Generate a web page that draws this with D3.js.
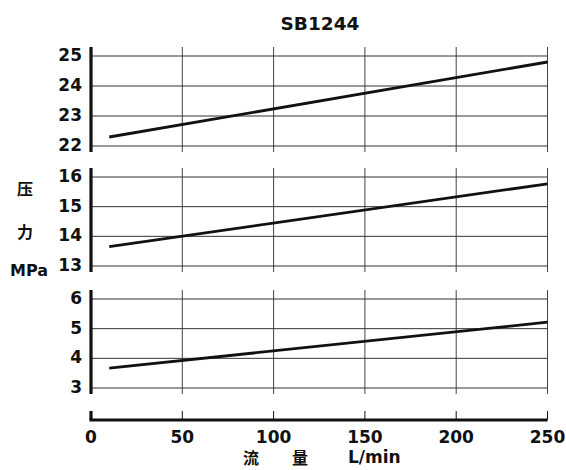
<!DOCTYPE html>
<html>
<head>
<meta charset="utf-8">
<script src="https://cdn.jsdelivr.net/npm/d3@7"></script>
<style>
  body { margin: 0; background: #fff; }
  text { font-family: "DejaVu Sans", "Liberation Sans", sans-serif; font-weight: bold; fill: #111; }
  .cjk { font-family: "Noto Sans CJK SC", sans-serif; font-weight: bold; }
</style>
</head>
<body>
<div id="chart"></div>
<script>
// data
const flow = [10, 250];
const pressTop = [22.3, 24.8];
const pressMid = [13.65, 15.77];
const pressLow = [3.67, 5.22];
const xTicks = [0, 50, 100, 150, 200, 250];
const ticksTop = [22, 23, 24, 25];
const ticksMid = [13, 14, 15, 16];
const ticksLow = [3, 4, 5, 6];

const width = 566, height = 470;

const svg = d3.select("#chart")
    .append("svg")
    .attr("width", width)
    .attr("height", height);

// shared x scale
const x = d3.scaleLinear()
    .domain([0, 250])
    .range([91, 547.5]);

// the three stacked panels
const panels = [
    {values: pressTop, ticks: ticksTop, top: 56, bottom: 146},
    {values: pressMid, ticks: ticksMid, top: 177, bottom: 266},
    {values: pressLow, ticks: ticksLow, top: 299, bottom: 388}
];

panels.forEach(p => {
    const y = d3.scaleLinear()
        .domain(d3.extent(p.ticks))
        .range([p.bottom, p.top]);
    const y0 = p.top - 9, y1 = p.bottom + 6;
    const g = svg.append("g");

    // vertical grid lines
    g.selectAll(".vgrid")
        .data(xTicks.slice(1))
        .join("line")
        .attr("x1", d => x(d)).attr("x2", d => x(d))
        .attr("y1", y0).attr("y2", y1)
        .attr("stroke", "#444")
        .attr("stroke-width", 1);

    // horizontal grid lines
    g.selectAll(".hgrid")
        .data(p.ticks)
        .join("line")
        .attr("x1", x(0)).attr("x2", x(250))
        .attr("y1", d => y(d)).attr("y2", d => y(d))
        .attr("stroke", "#333")
        .attr("stroke-width", 1);

    // thick left axis
    g.append("line")
        .attr("x1", x(0)).attr("x2", x(0))
        .attr("y1", y0).attr("y2", y1)
        .attr("stroke", "#111")
        .attr("stroke-width", 3.2);

    // tick labels
    g.selectAll(".lab")
        .data(p.ticks)
        .join("text")
        .attr("x", 82)
        .attr("y", d => y(d) - 1)
        .attr("dy", "0.36em")
        .attr("text-anchor", "end")
        .style("font-size", "17px")
        .text(d => d);

    // the curve
    const line = d3.line()
        .x((d, i) => x(flow[i]))
        .y(d => y(d));
    g.append("path")
        .datum(p.values)
        .attr("d", line)
        .attr("fill", "none")
        .attr("stroke", "#111")
        .attr("stroke-width", 2.8);
});

// bottom flow axis
const axisY = 420;
svg.selectAll(".xtick")
    .data(xTicks)
    .join("line")
    .attr("x1", d => x(d)).attr("x2", d => x(d))
    .attr("y1", axisY - 9).attr("y2", axisY)
    .attr("stroke", "#111")
    .attr("stroke-width", d => d === 0 ? 3.2 : 1);

svg.append("line")
    .attr("x1", x(0) - 1.5).attr("x2", x(250))
    .attr("y1", axisY).attr("y2", axisY)
    .attr("stroke", "#111")
    .attr("stroke-width", 3.2);

svg.selectAll(".xlab")
    .data(xTicks)
    .join("text")
    .attr("x", d => x(d))
    .attr("y", 437)
    .attr("dy", "0.36em")
    .attr("text-anchor", "middle")
    .style("font-size", "17px")
    .text(d => d);

// title
svg.append("text")
    .attr("x", 320)
    .attr("y", 30)
    .attr("text-anchor", "middle")
    .style("font-size", "18.5px")
    .text("SB1244");

// y axis title
svg.append("text").attr("class", "cjk")
    .attr("x", 25).attr("y", 195)
    .attr("text-anchor", "middle")
    .style("font-size", "16px")
    .text("压");
svg.append("text").attr("class", "cjk")
    .attr("x", 25).attr("y", 238)
    .attr("text-anchor", "middle")
    .style("font-size", "16px")
    .text("力");
svg.append("text")
    .attr("x", 29).attr("y", 276)
    .attr("text-anchor", "middle")
    .style("font-size", "16px")
    .text("MPa");

// x axis title
svg.append("text").attr("class", "cjk")
    .attr("x", 251).attr("y", 464)
    .attr("text-anchor", "middle")
    .style("font-size", "16px")
    .text("流");
svg.append("text").attr("class", "cjk")
    .attr("x", 300).attr("y", 464)
    .attr("text-anchor", "middle")
    .style("font-size", "16px")
    .text("量");
svg.append("text")
    .attr("x", 348).attr("y", 463)
    .attr("text-anchor", "start")
    .style("font-size", "17px")
    .text("L/min");
</script>
</body>
</html>
